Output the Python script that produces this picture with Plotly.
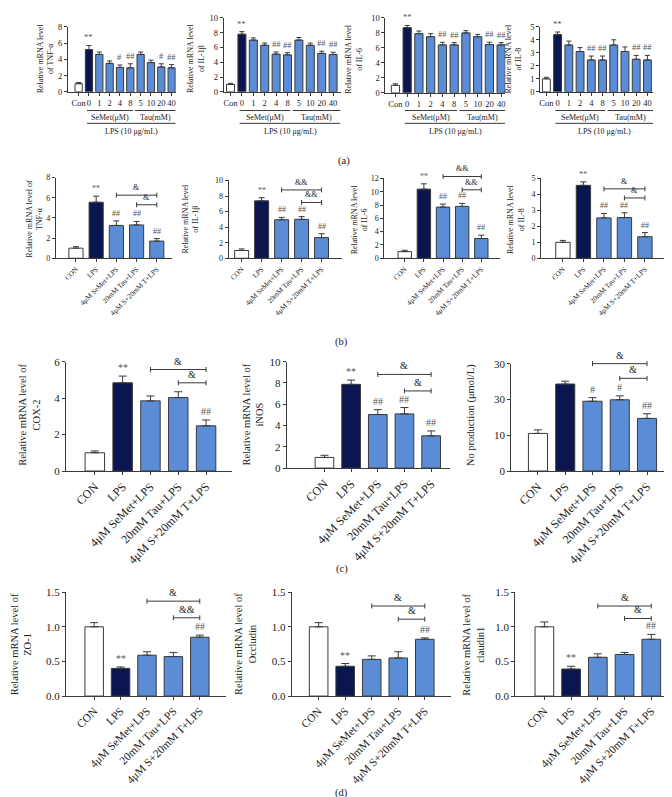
import plotly.graph_objects as go

W, H = 672, 797
FONT = "Liberation Serif"
WHITE = "#ffffff"
NAVY = "#0b1650"
BLUE = "#5a8dd6"
LINE = "#3a3a3a"
MARK = "#555555"

# ---------------- data ----------------
a_cats = ["Con", "0", "1", "2", "4", "8", "5", "10", "20", "40"]
a_tnf = [1.0, 5.2, 4.6, 3.5, 3.0, 2.95, 4.6, 3.6, 3.05, 2.95]
a_tnf_err = [0.15, 0.5, 0.3, 0.3, 0.3, 0.5, 0.3, 0.3, 0.4, 0.4]
a_il1b = [1.0, 7.8, 7.0, 6.3, 5.1, 5.0, 7.0, 6.3, 5.2, 5.05]
a_il1b_err = [0.15, 0.35, 0.3, 0.3, 0.3, 0.3, 0.35, 0.3, 0.3, 0.3]
a_il6 = [1.0, 8.7, 7.9, 7.5, 6.4, 6.4, 8.0, 7.5, 6.45, 6.4]
a_il6_err = [0.2, 0.3, 0.35, 0.4, 0.35, 0.3, 0.3, 0.3, 0.3, 0.3]
a_il8 = [1.0, 4.4, 3.6, 3.1, 2.45, 2.45, 3.6, 3.1, 2.5, 2.45]
a_il8_err = [0.12, 0.2, 0.3, 0.3, 0.3, 0.3, 0.4, 0.35, 0.3, 0.35]

g_cats = ["CON", "LPS", "4μM SeMet+LPS", "20mM Tau+LPS", "4μM S+20mM T+LPS"]
b_tnf = [1.0, 5.55, 3.25, 3.3, 1.7]
b_tnf_err = [0.15, 0.6, 0.45, 0.35, 0.25]
b_il1b = [1.0, 7.38, 4.95, 5.0, 2.66]
b_il1b_err = [0.2, 0.4, 0.3, 0.35, 0.5]
b_il6 = [1.0, 10.4, 7.7, 7.8, 2.97]
b_il6_err = [0.2, 0.8, 0.45, 0.45, 0.5]
b_il8 = [1.0, 4.57, 2.53, 2.55, 1.35]
b_il8_err = [0.12, 0.22, 0.28, 0.3, 0.26]
c_cox2 = [1.0, 4.84, 3.85, 4.03, 2.48]
c_cox2_err = [0.1, 0.37, 0.27, 0.32, 0.32]
c_inos = [1.0, 7.87, 5.03, 5.09, 3.03]
c_inos_err = [0.2, 0.4, 0.46, 0.6, 0.46]
c_no = [10.5, 24.3, 19.5, 19.9, 14.7]
c_no_err = [1.0, 0.8, 1.0, 1.1, 1.3]
d_zo1 = [1.0, 0.40, 0.59, 0.57, 0.85]
d_zo1_err = [0.06, 0.02, 0.05, 0.06, 0.03]
d_occ = [1.0, 0.43, 0.53, 0.55, 0.82]
d_occ_err = [0.06, 0.04, 0.05, 0.09, 0.02]
d_cld = [1.0, 0.39, 0.56, 0.60, 0.82]
d_cld_err = [0.07, 0.04, 0.05, 0.03, 0.07]

a_colors = [WHITE, NAVY] + [BLUE] * 8
g_colors = [WHITE, NAVY, BLUE, BLUE, BLUE]

a_marks_tnf = {1: "**", 4: "#", 5: "##", 8: "#", 9: "##"}
a_marks = {1: "**", 4: "##", 5: "##", 8: "##", 9: "##"}
g_marks = {1: "**", 2: "##", 3: "##", 4: "##"}

# ---------------- panel layout specs ----------------
# (x0px, x1px, y0px at value 0, ytop px at range max)
panels = [
    # row a
    dict(box=(59, 167, 79, 13), xr=[-1.04, 9.4], ymax=8, tv=[0, 2, 4, 6, 8], cats=a_cats, v=a_tnf, e=a_tnf_err,
         col=a_colors, marks=a_marks_tnf, br=[], title="Relative mRNA level<br>of TNF-α", tpos=(36, 45), row="a"),
    dict(box=(215, 332, 79, 4), xr=[-0.6, 9.65], ymax=10, tv=[0, 2, 4, 6, 8, 10], cats=a_cats, v=a_il1b, e=a_il1b_err,
         col=a_colors, marks=a_marks, br=[], title="Relative mRNA level<br>of IL-1β", tpos=(187, 45), row="a"),
    dict(box=(377, 497, 80, 4), xr=[-0.85, 9.35], ymax=10, tv=[0, 2, 4, 6, 8, 10], cats=a_cats, v=a_il6, e=a_il6_err,
         col=a_colors, marks=a_marks, br=[], title="Relative mRNA level<br>of IL-6", tpos=(345, 45), row="a"),
    dict(box=(532, 645, 79, 13), xr=[-0.55, 9.5], ymax=5, tv=[0, 1, 2, 3, 4, 5], cats=a_cats, v=a_il8, e=a_il8_err,
         col=a_colors, marks=a_marks, br=[], title="Relative mRNA level<br>of IL-8", tpos=(505, 45), row="a"),
    # row b
    dict(box=(47, 163, 248, 166), xr=[-0.99, 4.74], ymax=8, tv=[0, 2, 4, 6, 8], cats=g_cats, v=b_tnf, e=b_tnf_err,
         col=g_colors, marks=g_marks, br=[(2, 4, 6.25, "&"), (3, 4, 5.3, "&")],
         title="Relative mRNA level of<br>TNF-α", tpos=(26, 208), row="b"),
    dict(box=(220, 333, 248, 169), xr=[-0.65, 5.0], ymax=10, tv=[0, 2, 4, 6, 8, 10], cats=g_cats, v=b_il1b, e=b_il1b_err,
         col=g_colors, marks=g_marks, br=[(2, 4, 8.78, "&&"), (3, 4, 7.17, "&&")],
         title="Relative mRNA level<br>of IL-1β", tpos=(182, 208), row="b"),
    dict(box=(376, 492, 248, 167), xr=[-1.06, 4.99], ymax=12, tv=[0, 2, 4, 6, 8, 10, 12], cats=g_cats, v=b_il6, e=b_il6_err,
         col=g_colors, marks=g_marks, br=[(2, 4, 12.3, "&&"), (3, 4, 10.3, "&&")],
         title="Relative mRNA level<br>of IL-6", tpos=(351, 208), row="b"),
    dict(box=(533, 657, 248, 167), xr=[-1.06, 4.98], ymax=5, tv=[0, 1, 2, 3, 4, 5], cats=g_cats, v=b_il8, e=b_il8_err,
         col=g_colors, marks=g_marks, br=[(2, 4, 4.35, "&"), (3, 4, 3.78, "&")],
         title="Relative mRNA level<br>of IL-8", tpos=(508, 208), row="b"),
    # row c
    dict(box=(57, 223, 464, 353), xr=[-1.04, 4.92], ymax=6, tv=[0, 2, 4, 6], cats=g_cats, v=c_cox2, e=c_cox2_err,
         col=g_colors, marks={1: "**", 4: "##"}, br=[(2, 4, 5.57, "&"), (3, 4, 4.84, "&")],
         title="Relative mRNA level of<br>COX-2", tpos=(21, 407), row="c"),
    dict(box=(278, 442, 461, 353), xr=[-1.42, 4.72], ymax=10, tv=[0, 2, 4, 6, 8, 10], cats=g_cats, v=c_inos, e=c_inos_err,
         col=g_colors, marks=g_marks, br=[(2, 4, 8.8, "&"), (3, 4, 7.25, "&")],
         title="Relative mRNA level of<br>iNOS", tpos=(245, 407), row="c"),
    dict(box=(503, 660, 464, 355), xr=[-0.98, 4.77], ymax=30, tv=[0, 10, 20, 30], tt=["0", "10", "30", "30"],
         cats=g_cats, v=c_no, e=c_no_err, col=g_colors, marks={2: "#", 3: "#", 4: "##"},
         br=[(2, 4, 30.0, "&"), (3, 4, 25.9, "&")], title="No production (μmol/L)", tpos=(463, 407), row="c"),
    # row d
    dict(box=(57, 217, 692.5, 587), xr=[-1.07, 4.98], ymax=1.5, tv=[0, 0.5, 1.0, 1.5], tt=["0.0", "0.5", "1.0", "1.5"],
         cats=g_cats, v=d_zo1, e=d_zo1_err, col=g_colors, marks={1: "**", 4: "##"},
         br=[(2, 4, 1.37, "&"), (3, 4, 1.13, "&&")], title="Relative mRNA level of<br>ZO-1", tpos=(12, 640), row="d"),
    dict(box=(283, 443, 692.5, 587), xr=[-1.02, 5.0], ymax=1.5, tv=[0, 0.5, 1.0, 1.5], tt=["0.0", "0.5", "1.0", "1.5"],
         cats=g_cats, v=d_occ, e=d_occ_err, col=g_colors, marks={1: "**", 4: "##"},
         br=[(2, 4, 1.3, "&"), (3, 4, 1.11, "&")], title="Relative mRNA level of<br>Occludin", tpos=(237, 640), row="d"),
    dict(box=(507, 670, 692.5, 587), xr=[-1.09, 5.0], ymax=1.5, tv=[0, 0.5, 1.0, 1.5], tt=["0.0", "0.5", "1.0", "1.5"],
         cats=g_cats, v=d_cld, e=d_cld_err, col=g_colors, marks={1: "**", 4: "##"},
         br=[(2, 4, 1.3, "&"), (3, 4, 1.12, "&")], title="Relative mRNA level of<br>claudin1", tpos=(465, 640), row="d"),
]

style = {
    "a": dict(tick=8.5, xtick=8.5, title=8, mark=8.5, ew=2.5, xang=0),
    "b": dict(tick=8, xtick=7.2, title=8, mark=8, ew=3, xang=-45),
    "c": dict(tick=11, xtick=12, title=10.5, mark=10, ew=4, xang=-45),
    "d": dict(tick=11, xtick=11.3, title=10.5, mark=10, ew=4, xang=-45),
}


def py(p):
    return 1 - p / H


def px(p):
    return p / W


fig = go.Figure()
layout = dict(
    width=W, height=H, margin=dict(l=0, r=0, t=0, b=0), paper_bgcolor="white", plot_bgcolor="white",
    font=dict(family=FONT, color="#222222"), showlegend=False, bargap=0.3,
)
shapes = []
annotations = []

for k, p in enumerate(panels, start=1):
    x0, x1, y0, yt = p["box"]
    st = style[p["row"]]
    xid = "x" if k == 1 else f"x{k}"
    yid = "y" if k == 1 else f"y{k}"
    xkey = "xaxis" if k == 1 else f"xaxis{k}"
    ykey = "yaxis" if k == 1 else f"yaxis{k}"
    n = len(p["cats"])
    layout[xkey] = dict(
        domain=[px(x0), px(x1)], range=p["xr"], anchor=yid, tickmode="array", tickvals=list(range(n)),
        ticktext=p["cats"], tickangle=st["xang"], showline=True, linecolor=LINE, linewidth=1, ticks="outside",
        ticklen=3, tickcolor=LINE, showgrid=False, zeroline=False,
        tickfont=dict(size=st["xtick"], family=FONT, color="#222"), fixedrange=True,
    )
    layout[ykey] = dict(
        domain=[py(y0), py(yt)], range=[0, p["ymax"]], anchor=xid, tickmode="array", tickvals=p["tv"],
        ticktext=p.get("tt", [str(t) for t in p["tv"]]), showline=True, linecolor=LINE, linewidth=1, ticks="outside",
        ticklen=3, tickcolor=LINE, showgrid=False, zeroline=False,
        tickfont=dict(size=st["tick"], family=FONT, color="#222"), fixedrange=True,
    )
    fig.add_trace(go.Bar(
        x=list(range(n)), y=p["v"], width=0.7, marker=dict(color=p["col"], line=dict(color=LINE, width=1)),
        error_y=dict(type="data", array=p["e"], arrayminus=[0] * n, symmetric=False, color=LINE, thickness=1,
                     width=st["ew"]),
        xaxis=xid, yaxis=yid, showlegend=False, hoverinfo="skip",
    ))
    # significance marks
    for i, txt in p["marks"].items():
        annotations.append(dict(
            x=i, y=p["v"][i] + p["e"][i], xref=xid, yref=yid, text=txt, showarrow=False, yanchor="bottom",
            yshift=1, font=dict(size=st["mark"], family=FONT, color=MARK),
        ))
    # brackets
    ymax = p["ymax"]

    def yconv(v, y0=y0, yt=yt, ymax=ymax):
        return py(y0 + (yt - y0) * v / ymax)

    tick_h = 2.5 / H
    for (i, j, yv, txt) in p["br"]:
        yb = yconv(yv)
        shapes.append(dict(type="line", xref=xid, yref="paper", x0=i, x1=j, y0=yb, y1=yb,
                           line=dict(color=LINE, width=1)))
        for xx in (i, j):
            shapes.append(dict(type="line", xref=xid, yref="paper", x0=xx, x1=xx, y0=yb - tick_h, y1=yb + tick_h,
                               line=dict(color=LINE, width=1)))
        annotations.append(dict(x=(i + j) / 2, y=yb, xref=xid, yref="paper", text=txt, showarrow=False,
                                yanchor="bottom", yshift=1, font=dict(size=st["mark"], family=FONT, color="#222")))
    # y titles
    tx, ty = p["tpos"]
    annotations.append(dict(x=px(tx), y=py(ty), xref="paper", yref="paper", text=p["title"], textangle=-90,
                            showarrow=False, xanchor="center", yanchor="middle",
                            font=dict(size=st["title"], family=FONT, color="#222")))
    # row (a) group lines
    if p["row"] == "a":
        end = p["xr"][1]
        groups = [(0.8, 5.25, 98, 105, "SeMet(μM)"), (5.45, end, 98, 105, "Tau(mM)"),
                  (0.8, end, 111, 119, "LPS (10 μg/mL)")]
        for (ga, gb, ly, ty2, lab) in groups:
            shapes.append(dict(type="line", xref=xid, yref="paper", x0=ga, x1=gb, y0=py(ly), y1=py(ly),
                               line=dict(color=LINE, width=1)))
            annotations.append(dict(x=(ga + gb) / 2, y=py(ty2), xref=xid, yref="paper", text=lab, showarrow=False,
                                    xanchor="center", yanchor="middle",
                                    font=dict(size=8, family=FONT, color="#222")))

# panel letters
for lab, (lx, ly) in {"(a)": (335, 149), "(b)": (333, 333), "(c)": (333, 563), "(d)": (333, 791)}.items():
    annotations.append(dict(x=px(lx), y=py(ly), xref="paper", yref="paper", text=lab, showarrow=False,
                            xanchor="center", yanchor="middle", font=dict(size=10.5, family=FONT, color="#222")))

layout["shapes"] = shapes
layout["annotations"] = annotations
fig.update_layout(**layout)
fig.write_html("out.html")
